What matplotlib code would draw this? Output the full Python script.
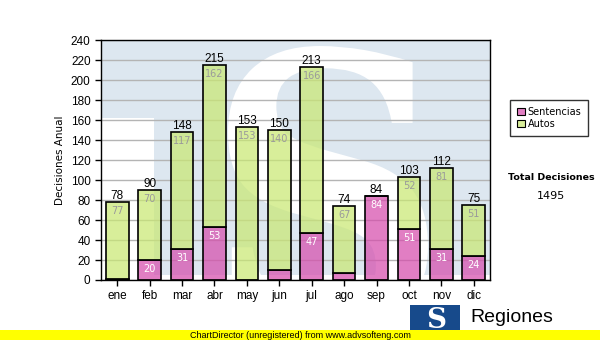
import numpy as np
import matplotlib
matplotlib.use('Agg')
from matplotlib import pyplot as plt
from matplotlib.patches import Rectangle, PathPatch
from matplotlib.textpath import TextPath
from matplotlib.font_manager import FontProperties
from matplotlib.transforms import Affine2D

meses = ['ene', 'feb', 'mar', 'abr', 'may', 'jun', 'jul', 'ago', 'sep', 'oct', 'nov', 'dic']
sentencias = [1, 20, 31, 53, 0, 10, 47, 7, 84, 51, 31, 24]
autos = [77, 70, 117, 162, 153, 140, 166, 67, 0, 52, 81, 51]
total_decisiones = 1495

PINK = (0.84, 0.30, 0.68, 0.72)
GREEN = (0.79, 0.91, 0.45, 0.72)
WM_BLUE = '#dde7f0'
LOGO_BLUE = '#174a8b'

fig = plt.figure(figsize=(6, 3.4), dpi=100)
# pixel coordinates, origin top-left
pix = Affine2D().scale(1 / 600, -1 / 340).translate(0, 1) + fig.transFigure

ax = fig.add_axes([101 / 600, 1 - 280 / 340, 389 / 600, 239.5 / 340])
ax.set_facecolor('white')

# background watermark: pale blue block with a large white S
for (x0, y0, w, h) in [(101, 40, 389, 78), (154, 117, 336, 158)]:
    r = Rectangle((x0, y0), w, h, transform=pix, facecolor=WM_BLUE,
                  edgecolor='none', zorder=0.1)
    r.set_clip_path(ax.patch)
    ax.add_patch(r)

s_path = TextPath((0, 0), 'S', size=1, prop=FontProperties(family='DejaVu Serif', weight='bold'))
bb = s_path.get_extents()
sx0, sy_top, sw, sh = 228, 46, 200, 285
s_tr = Affine2D().translate(-bb.x0, -bb.y0).scale(sw / bb.width, -sh / bb.height) \
    .translate(sx0, sy_top + sh)
s_patch = PathPatch(s_tr.transform_path(s_path), transform=pix, facecolor='white',
                    edgecolor='none', zorder=0.2)
s_patch.set_clip_path(ax.patch)
ax.add_patch(s_patch)

x = np.arange(len(meses))
sent = np.array(sentencias)
aut = np.array(autos)
tot = sent + aut

ax.bar(x, sent, width=0.7, color=PINK, edgecolor='black', linewidth=1.2, zorder=2,
       label='Sentencias')
ax.bar(x, aut, bottom=sent, width=0.7, color=GREEN, edgecolor='black', linewidth=1.2,
       zorder=2, label='Autos')

for i in range(len(meses)):
    if sent[i] >= 15:
        ax.annotate(str(sent[i]), (x[i], sent[i]), xytext=(0, -2.5), textcoords='offset points',
                    ha='center', va='top', fontsize=7, color='white', zorder=3)
    if aut[i] >= 15:
        ax.annotate(str(aut[i]), (x[i], tot[i]), xytext=(0, -2.5), textcoords='offset points',
                    ha='center', va='top', fontsize=7, color='#9a9a9a', zorder=3)
    ax.annotate(str(tot[i]), (x[i], tot[i]), xytext=(0, 0), textcoords='offset points',
                ha='center', va='bottom', fontsize=8.5, family='Liberation Sans',
                color='black', zorder=3)

ax.set_xlim(-0.5, len(meses) - 0.5)
ax.set_ylim(0, 240)
ax.set_yticks(np.arange(0, 241, 20))
ax.set_xticks(x)
ax.set_xticklabels(meses)
ax.yaxis.grid(True, color='#b4b4b4', linewidth=1)
ax.set_axisbelow(True)
ax.tick_params(direction='out', length=4, width=1, colors='black', labelsize=8.5)
for lbl in ax.get_xticklabels() + ax.get_yticklabels():
    lbl.set_family('Liberation Sans')
for sp in ax.spines.values():
    sp.set_color('black')
    sp.set_linewidth(1)
ax.set_ylabel('Decisiones Anual', fontsize=7.5, labelpad=4)

leg = fig.legend(loc='upper left', bbox_to_anchor=(510 / 600, 1 - 100 / 340),
                 fontsize=7, frameon=True, fancybox=False, edgecolor='black',
                 handlelength=0.8, handleheight=0.8, handletextpad=0.3,
                 borderpad=0.7, labelspacing=0.2, borderaxespad=0)
leg.get_frame().set_linewidth(1)
for h in leg.legend_handles:
    h.set_edgecolor('black')
    h.set_linewidth(0.8)

fig.text(551 / 600, 1 - 177 / 340, 'Total Decisiones', ha='center', va='center',
         fontsize=6.8, fontweight='bold')
fig.text(551 / 600, 1 - 196 / 340, str(total_decisiones), ha='center', va='center',
         fontsize=8)

# logo at the bottom right
fig.patches.append(Rectangle((410, 305), 50, 30, transform=pix, facecolor=LOGO_BLUE,
                             edgecolor='none'))
fig.text(436 / 600, 1 - 320 / 340, 'S', ha='center', va='center', fontsize=20,
         fontweight='bold', family='DejaVu Serif', color='white')
fig.text(470 / 600, 1 - 317 / 340, 'Regiones', ha='left', va='center', fontsize=14,
         family='Liberation Sans', color='black')

# footer strip
fig.patches.append(Rectangle((0, 330), 600, 10, transform=pix, facecolor='#ffff00',
                             edgecolor='none', zorder=5))
fig.text(300 / 600, 1 - 335 / 340, 'ChartDirector (unregistered) from www.advsofteng.com',
         ha='center', va='center', fontsize=6.5, family='Liberation Sans', zorder=6)

plt.savefig('out.png', dpi=100)
